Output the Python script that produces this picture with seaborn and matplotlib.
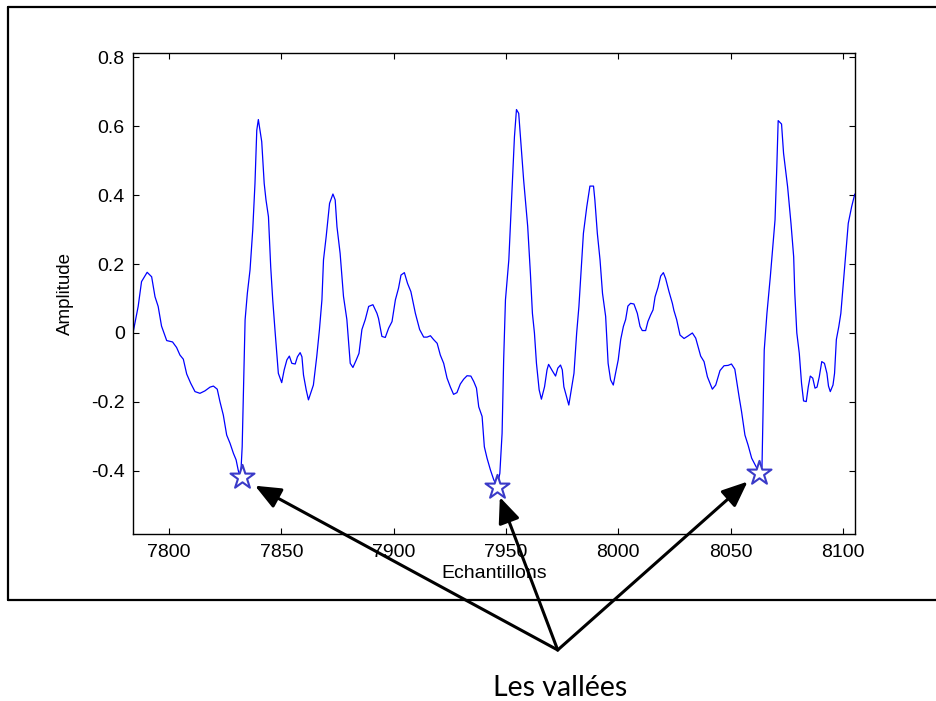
import numpy as np
import pandas as pd
import matplotlib
matplotlib.use("Agg")
import matplotlib.pyplot as plt
from matplotlib.lines import Line2D
import seaborn as sns

# ---------------- data ----------------
sample_x = [
    7784.0, 7786.3, 7787.8, 7790.3, 7792.3, 7793.8, 7795.2, 7796.7, 7799.0, 7801.6,
    7803.4, 7804.9, 7806.4, 7807.9, 7809.7, 7811.6, 7813.8, 7816.0, 7818.3, 7819.8,
    7821.5, 7822.7, 7824.2, 7825.7, 7827.2, 7828.7, 7829.9, 7830.9, 7831.9, 7832.6,
    7833.9, 7834.9, 7836.1, 7837.3, 7838.3, 7839.1, 7839.8, 7841.3, 7842.4, 7843.2,
    7844.3, 7845.3, 7846.2, 7847.3, 7848.7, 7850.2, 7851.3, 7852.5, 7853.6, 7854.7,
    7856.2, 7857.2, 7858.4, 7859.2, 7859.9, 7861.1, 7862.1, 7863.6, 7864.3, 7865.8,
    7867.0, 7868.1, 7868.8, 7870.0, 7871.5, 7873.0, 7874.0, 7874.8, 7876.2, 7877.7,
    7879.2, 7880.7, 7881.9, 7883.4, 7884.6, 7885.9, 7887.4, 7888.9, 7890.8, 7892.6,
    7893.3, 7894.8, 7896.3, 7897.8, 7899.3, 7900.8, 7902.2, 7903.3, 7904.8, 7906.2,
    7907.7, 7909.7, 7911.6, 7913.4, 7914.9, 7916.4, 7917.8, 7919.4, 7920.8, 7922.3,
    7923.8, 7925.3, 7926.7, 7928.2, 7929.7, 7931.2, 7932.7, 7934.4, 7935.7, 7936.9,
    7937.9, 7939.4, 7940.4, 7941.6, 7943.1, 7944.6, 7946.1, 7947.3, 7948.3, 7949.0,
    7949.8, 7951.3, 7952.8, 7953.8, 7954.7, 7955.7, 7956.7, 7957.9, 7959.7, 7960.9,
    7961.8, 7962.7, 7963.6, 7964.8, 7965.8, 7967.2, 7968.3, 7969.0, 7970.6, 7972.1,
    7973.1, 7974.3, 7975.1, 7975.8, 7977.0, 7978.0, 7979.1, 7980.3, 7981.5, 7982.5,
    7983.6, 7984.5, 7986.0, 7987.4, 7989.0, 7989.6, 7990.7, 7991.9, 7993.0, 7994.4,
    7995.5, 7996.6, 7997.8, 7998.8, 8000.0, 8001.1, 8002.3, 8003.3, 8004.3, 8005.5,
    8007.0, 8008.5, 8009.7, 8010.7, 8012.2, 8013.2, 8014.4, 8015.5, 8016.4, 8017.7,
    8018.9, 8020.1, 8021.1, 8022.6, 8024.1, 8024.8, 8026.0, 8027.5, 8029.3, 8031.0,
    8033.0, 8034.5, 8036.7, 8038.2, 8039.7, 8041.9, 8043.4, 8045.3, 8047.1, 8048.9,
    8050.4, 8051.9, 8053.1, 8053.8, 8054.9, 8056.4, 8057.8, 8059.4, 8061.3, 8062.8,
    8064.0, 8065.0, 8066.2, 8067.7, 8068.7, 8069.8, 8070.6, 8071.2, 8072.7, 8073.6,
    8075.4, 8076.9, 8078.1, 8078.6, 8079.5, 8080.6, 8081.6, 8082.5, 8083.7, 8084.6,
    8085.5, 8086.6, 8087.6, 8088.5, 8089.5, 8090.6, 8091.8, 8092.9, 8093.6, 8094.4,
    8095.6, 8096.3, 8097.1, 8098.2, 8099.1, 8100.2, 8101.2, 8102.4, 8103.9, 8105.3,
]
amplitude = [
    0.000, 0.077, 0.149, 0.176, 0.163, 0.105, 0.077, 0.020, -0.022, -0.026,
    -0.042, -0.064, -0.076, -0.119, -0.146, -0.170, -0.175, -0.168, -0.157, -0.154,
    -0.163, -0.199, -0.238, -0.296, -0.320, -0.349, -0.368, -0.400, -0.420, -0.330,
    0.038, 0.115, 0.183, 0.299, 0.434, 0.588, 0.619, 0.555, 0.434, 0.386,
    0.337, 0.192, 0.096, 0.000, -0.117, -0.144, -0.107, -0.078, -0.067, -0.088,
    -0.090, -0.069, -0.057, -0.069, -0.122, -0.165, -0.194, -0.165, -0.151, -0.068,
    0.010, 0.096, 0.212, 0.280, 0.376, 0.403, 0.386, 0.308, 0.231, 0.106,
    0.039, -0.088, -0.100, -0.078, -0.059, 0.010, 0.039, 0.077, 0.082, 0.057,
    0.042, -0.010, -0.013, 0.014, 0.033, 0.096, 0.130, 0.168, 0.175, 0.144,
    0.120, 0.057, 0.010, -0.012, -0.012, -0.008, -0.019, -0.030, -0.064, -0.088,
    -0.131, -0.157, -0.178, -0.173, -0.148, -0.134, -0.124, -0.125, -0.141, -0.160,
    -0.214, -0.242, -0.330, -0.363, -0.397, -0.426, -0.445, -0.407, -0.291, -0.078,
    0.096, 0.212, 0.424, 0.569, 0.648, 0.637, 0.550, 0.443, 0.309, 0.173,
    0.057, 0.000, -0.088, -0.165, -0.192, -0.156, -0.107, -0.091, -0.109, -0.125,
    -0.102, -0.093, -0.107, -0.156, -0.185, -0.209, -0.165, -0.117, 0.000, 0.077,
    0.192, 0.289, 0.366, 0.426, 0.426, 0.386, 0.289, 0.212, 0.115, 0.048,
    -0.088, -0.136, -0.151, -0.117, -0.078, -0.019, 0.019, 0.039, 0.078, 0.086,
    0.084, 0.057, 0.019, 0.007, 0.007, 0.033, 0.052, 0.067, 0.105, 0.132,
    0.165, 0.175, 0.158, 0.120, 0.086, 0.065, 0.039, -0.006, -0.016, -0.009,
    0.000, -0.015, -0.067, -0.083, -0.127, -0.163, -0.151, -0.109, -0.095, -0.094,
    -0.090, -0.105, -0.156, -0.185, -0.228, -0.296, -0.325, -0.363, -0.387, -0.405,
    -0.387, -0.049, 0.057, 0.163, 0.241, 0.328, 0.483, 0.616, 0.606, 0.521,
    0.424, 0.318, 0.221, 0.115, 0.000, -0.059, -0.146, -0.197, -0.199, -0.156,
    -0.125, -0.131, -0.160, -0.157, -0.127, -0.083, -0.088, -0.117, -0.154, -0.170,
    -0.151, -0.117, -0.019, 0.019, 0.057, 0.144, 0.221, 0.318, 0.366, 0.403,
]

valley_x = [7832.6, 7946.1, 8062.8]
valley_y = [-0.418, -0.446, -0.407]

x_ticks = [7800, 7850, 7900, 7950, 8000, 8050, 8100]
y_ticks = [-0.4, -0.2, 0, 0.2, 0.4, 0.6, 0.8]
y_tick_labels = ["-0.4", "-0.2", "0", "0.2", "0.4", "0.6", "0.8"]

# arrow heads (data coords, just beside each valley star)
arrow_head_x = [7838.3, 7947.3, 8057.6]
arrow_head_y = [-0.443, -0.476, -0.431]
annotation_text = "Les vallées"

x_label = "Echantillons"
y_label = "Amplitude"

# ---------------- figure ----------------
sns.set_theme(style="white")
plt.rcParams["font.family"] = ["Liberation Sans", "DejaVu Sans"]

W, H = 936, 701
fig = plt.figure(figsize=(W / 100, H / 100), dpi=100)
fig.patch.set_facecolor("white")

ax = fig.add_axes([133 / W, 1 - 534 / H, (855 - 133) / W, (534 - 53) / H])

df = pd.DataFrame({"x": sample_x, "y": amplitude})
sns.lineplot(data=df, x="x", y="y", ax=ax, estimator=None, sort=False,
             color="#0000ff", linewidth=0.9)

vdf = pd.DataFrame({"x": valley_x, "y": valley_y})
sns.scatterplot(data=vdf, x="x", y="y", ax=ax, marker="*", s=330,
                facecolor="white", edgecolor="#3a3ac8", linewidth=1.5, zorder=5)

ax.set_xlim(7784, 8105.4)
ax.set_ylim(-0.583, 0.812)
ax.set_xticks(x_ticks)
ax.set_yticks(y_ticks)
ax.set_yticklabels(y_tick_labels)

for s in ax.spines.values():
    s.set_visible(True)
    s.set_color("black")
    s.set_linewidth(1.0)

ax.tick_params(axis="both", which="both", direction="in", length=4.5, width=0.8,
               top=True, right=True, bottom=True, left=True,
               labelsize=14, colors="black")
ax.tick_params(axis="x", pad=7)
ax.tick_params(axis="y", pad=6)

ax.set_xlabel(x_label, fontsize=14, labelpad=3, color="black")
ax.set_ylabel(y_label, fontsize=13.5, labelpad=12, color="black")

# arrows from a common tail to each valley
tail = (557.7 / W, 1 - 650 / H)
for hx, hy in zip(arrow_head_x, arrow_head_y):
    ax.annotate("", xy=(hx, hy), xycoords="data",
                xytext=tail, textcoords="figure fraction",
                arrowprops=dict(arrowstyle="-|>,head_length=1.3,head_width=0.55",
                                color="black", lw=2.2, shrinkA=0, shrinkB=0),
                annotation_clip=False)

fig.text(560.5 / W, 1 - 696 / H, annotation_text, ha="center", va="baseline",
         fontsize=20.5, family=["Lato", "DejaVu Sans"], color="black")

# outer frame (left, top, bottom; right edge runs off the picture)
frame_kw = dict(color="black", linewidth=1.6, transform=fig.transFigure)
fig.add_artist(Line2D([8 / W, 1.0], [1 - 7 / H, 1 - 7 / H], **frame_kw))
fig.add_artist(Line2D([8 / W, 1.0], [1 - 600 / H, 1 - 600 / H], **frame_kw))
fig.add_artist(Line2D([8 / W, 8 / W], [1 - 7 / H, 1 - 600 / H], **frame_kw))

fig.savefig("out.png", dpi=100)
